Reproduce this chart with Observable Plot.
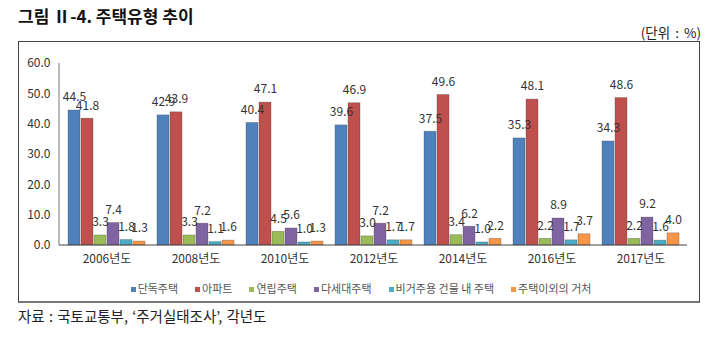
<!DOCTYPE html>
<html><head><meta charset="utf-8">
<script src="https://cdn.jsdelivr.net/npm/d3@7"></script>
<script src="https://cdn.jsdelivr.net/npm/@observablehq/plot@0.6"></script>
<style>
html,body{margin:0;padding:0;background:#fff;}
body{width:720px;height:338px;position:relative;overflow:hidden;font-family:"Noto Sans CJK KR","Noto Sans",sans-serif;color:#222;}
#title{position:absolute;left:18px;top:3px;font-size:17px;font-weight:bold;color:#111;}
#unit{position:absolute;right:19px;top:22px;font-size:13.5px;color:#222;word-spacing:2px;}
#box{position:absolute;left:18px;top:41px;width:680px;height:259px;border:1.5px solid #444;border-bottom:2.5px solid #777;}
#chart{position:absolute;left:0;top:0;}
#legend{position:absolute;left:0;width:680px;top:238px;display:flex;justify-content:center;gap:17px;font-size:11px;color:#555;padding-left:4px;box-sizing:border-box;}
#legend span.sw{display:inline-block;width:5px;height:5px;margin-right:2px;vertical-align:middle;position:relative;top:-1px;}
#source{position:absolute;left:18px;top:305px;font-size:14.5px;color:#222;word-spacing:1px;}
</style></head>
<body>
<div id="title">그림 Ⅱ-4. 주택유형 추이</div>
<div id="unit">(단위 : %)</div>
<div id="box"><div id="chart"></div><div id="legend"></div></div>
<div id="source">자료 : 국토교통부, ‘주거실태조사’, 각년도</div>
<script>
const years = ["2006년도","2008년도","2010년도","2012년도","2014년도","2016년도","2017년도"];
const types = ["단독주택","아파트","연립주택","다세대주택","비거주용 건물 내 주택","주택이외의 거처"];
const detached   = [44.5, 42.9, 40.4, 39.6, 37.5, 35.3, 34.3];
const apartment  = [41.8, 43.9, 47.1, 46.9, 49.6, 48.1, 48.6];
const rowhouse   = [3.3, 3.3, 4.5, 3.0, 3.4, 2.2, 2.2];
const multiplex  = [7.4, 7.2, 5.6, 7.2, 6.2, 8.9, 9.2];
const nonresid   = [1.8, 1.1, 1.0, 1.7, 1.0, 1.7, 1.6];
const otherLiving= [1.3, 1.6, 1.3, 1.7, 2.2, 3.7, 4.0];
const colors = ["#4F81BD","#C0504D","#9BBB59","#8064A2","#4BACC6","#F79646"];
const yTicks = [0,10,20,30,40,50,60];

const series = [detached, apartment, rowhouse, multiplex, nonresid, otherLiving];
const data = [];
years.forEach((yr,i)=>types.forEach((t,j)=>data.push({year:yr,type:t,value:series[j][i]})));

const chart = Plot.plot({
  width: 680, height: 233,
  marginLeft: 40, marginRight: 12, marginTop: 21, marginBottom: 30,
  style:{fontFamily:'"Noto Sans CJK KR","Noto Sans",sans-serif', fontSize:"12px", color:"#333", background:"transparent"},
  fx:{domain:years, paddingInner:0.14, paddingOuter:0.07, label:null},
  x:{domain:types, paddingInner:0.08, paddingOuter:0, axis:null},
  y:{domain:[0,60], label:null},
  color:{domain:types, range:colors},
  marks:[
    Plot.barY(data,{fx:"year", x:"type", y:"value", fill:"type", stroke:"#333", strokeOpacity:0.35, strokeWidth:0.8}),
    Plot.text(data,{fx:"year", x:"type", y:"value", text:d=>d.value.toFixed(1), dy:-13, fontSize:12, fill:"#333"}),
    Plot.axisY({ticks:yTicks, tickFormat:d=>d.toFixed(1), tickSize:0, tickPadding:18, fontSize:12, label:null}),
    Plot.axisFx({anchor:"bottom", tickSize:0, tickPadding:9, fontSize:12, label:null})
  ]
});
document.getElementById("chart").appendChild(chart);

// axis lines drawn through the plot's own scales
const ys = chart.scale("y");
const svg = d3.select(chart);
svg.append("line").attr("x1",40).attr("x2",40).attr("y1",ys.apply(60)).attr("y2",ys.apply(0)).attr("stroke","#777").attr("stroke-width",1);
svg.append("line").attr("x1",40).attr("x2",680-12).attr("y1",ys.apply(0)).attr("y2",ys.apply(0)).attr("stroke","#444").attr("stroke-width",1.2);

const lg = document.getElementById("legend");
types.forEach((t,i)=>{
  const it = document.createElement("div");
  it.innerHTML = `<span class="sw" style="background:${colors[i]}"></span>${t}`;
  lg.appendChild(it);
});
</script>
</body></html>
